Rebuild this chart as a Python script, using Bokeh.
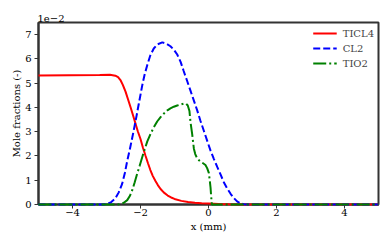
from bokeh.plotting import figure
from bokeh.models import FixedTicker, Range1d, Legend, LegendItem
from bokeh.embed import file_html
from bokeh.resources import INLINE

# values in units of 1e-2 (mole fraction)
ticl4_x = [-5.0, -3.2, -2.9, -2.74, -2.66, -2.59, -2.52, -2.44, -2.37, -2.29, -2.22, -2.15, -2.08,
           -2.0, -1.93, -1.85, -1.78, -1.71, -1.64, -1.56, -1.49, -1.41, -1.31, -1.2, -1.1, -1.0,
           -0.8, -0.6, -0.4, -0.2, 0.0, 0.3, 0.6, 1.0, 1.5, 5.0]
ticl4_y = [5.32, 5.34, 5.35, 5.31, 5.25, 5.13, 4.93, 4.65, 4.35, 4.0, 3.68, 3.35, 3.02,
           2.7, 2.35, 2.0, 1.7, 1.42, 1.18, 0.97, 0.8, 0.64, 0.49, 0.37, 0.29, 0.23,
           0.15, 0.1, 0.07, 0.05, 0.04, 0.02, 0.01, 0.005, 0.0, 0.0]

cl2_x = [-5.0, -3.1, -2.98, -2.86, -2.74, -2.64, -2.54, -2.46, -2.39, -2.31, -2.24, -2.15, -2.05,
         -1.95, -1.88, -1.8, -1.71, -1.61, -1.5, -1.36, -1.24, -1.12, -1.02, -0.92, -0.82, -0.73,
         -0.63, -0.53, -0.43, -0.33, -0.24, -0.14, -0.04, 0.06, 0.16, 0.26, 0.36, 0.45, 0.55,
         0.65, 0.75, 0.84, 0.94, 1.04, 1.2, 5.0]
cl2_y = [0.0, 0.0, 0.02, 0.1, 0.25, 0.5, 0.85, 1.3, 1.8, 2.3, 2.77, 3.4, 4.15,
         4.9, 5.35, 5.75, 6.15, 6.43, 6.6, 6.68, 6.63, 6.52, 6.38, 6.18, 5.88, 5.5,
         5.1, 4.69, 4.28, 3.87, 3.46, 3.05, 2.63, 2.22, 1.87, 1.54, 1.22, 0.92, 0.66,
         0.44, 0.26, 0.13, 0.05, 0.01, 0.0, 0.0]

tio2_x = [-5.0, -2.7, -2.59, -2.49, -2.39, -2.31, -2.24, -2.17, -2.1, -2.02, -1.95, -1.87, -1.8,
          -1.7, -1.61, -1.51, -1.41, -1.31, -1.22, -1.12, -1.02, -0.92, -0.82, -0.72, -0.66,
          -0.61, -0.56, -0.53, -0.48, -0.43, -0.39, -0.35, -0.3, -0.24, -0.17, -0.09, -0.04,
          0.01, 0.04, 0.06, 0.08, 0.1, 5.0]
tio2_y = [0.0, 0.0, 0.02, 0.07, 0.18, 0.36, 0.6, 0.92, 1.26, 1.62, 1.95, 2.3, 2.6,
          2.92, 3.18, 3.42, 3.6, 3.75, 3.87, 3.96, 4.03, 4.08, 4.12, 4.16, 4.16,
          4.08, 3.85, 3.4, 2.9, 2.3, 2.08, 1.95, 1.85, 1.77, 1.71, 1.63, 1.5,
          1.3, 0.95, 0.7, 0.3, 0.0, 0.0]

x_ticks = [-4, -2, 0, 2, 4]
y_ticks = [0, 1, 2, 3, 4, 5, 6, 7]
series_names = ["TICL4", "CL2", "TIO2"]

FONT = "DejaVu Serif"
FRAME = "#333333"

p = figure(width=392, height=245, output_backend="svg", toolbar_location=None,
           x_range=Range1d(-5, 5), y_range=Range1d(0, 7.5),
           min_border_left=38, min_border_right=14, min_border_top=22, min_border_bottom=41)
p.background_fill_color = "white"
p.border_fill_color = "white"
p.outline_line_color = FRAME
p.outline_line_width = 2
p.grid.visible = False

p.title.text = "1e\u22122"
p.title.align = "left"
p.title.text_font = FONT
p.title.text_font_size = "10px"
p.title.text_font_style = "normal"
p.title.text_color = "black"
p.title.standoff = 1
p.title.offset = -1

r1 = p.line(ticl4_x, ticl4_y, line_color="#ff0000", line_width=2, level="overlay")
r2 = p.line(cl2_x, cl2_y, line_color="#0000ff", line_width=2, line_dash="7 3", level="overlay")
r3 = p.line(tio2_x, tio2_y, line_color="#008000", line_width=2, line_dash="13 3 2 3", level="overlay")

for ax in (p.xaxis[0], p.yaxis[0]):
    ax.axis_line_color = FRAME
    ax.axis_line_width = 2
    ax.major_tick_line_color = FRAME
    ax.major_tick_line_width = 1
    ax.major_tick_out = 4
    ax.major_tick_in = 0
    ax.minor_tick_line_color = None
    ax.major_label_text_font = FONT
    ax.major_label_text_font_size = "10px"
    ax.major_label_text_color = "black"
    ax.axis_label_text_font = FONT
    ax.axis_label_text_font_size = "10px"
    ax.axis_label_text_font_style = "normal"
    ax.axis_label_text_color = "black"

p.xaxis[0].ticker = FixedTicker(ticks=x_ticks)
p.xaxis[0].major_label_overrides = {t: str(t).replace("-", "\u2212") for t in x_ticks}
p.xaxis[0].axis_label = "x (mm)"
p.xaxis[0].major_label_standoff = 0
p.xaxis[0].axis_label_standoff = 2
p.yaxis[0].ticker = FixedTicker(ticks=y_ticks)
p.yaxis[0].major_label_overrides = {t: str(t) for t in y_ticks}
p.yaxis[0].axis_label = "Mole fractions (-)"
p.yaxis[0].major_label_standoff = 3
p.yaxis[0].axis_label_standoff = 0

legend = Legend(items=[LegendItem(label=series_names[0], renderers=[r1]),
                       LegendItem(label=series_names[1], renderers=[r2]),
                       LegendItem(label=series_names[2], renderers=[r3])],
                location="top_right", border_line_color=None, background_fill_alpha=0,
                label_text_font=FONT, label_text_font_size="10px",
                glyph_width=24, glyph_height=14, label_height=14, spacing=1,
                label_standoff=6, padding=4, margin=4)
p.add_layout(legend)

open("out.html", "w").write(file_html(p, INLINE))
